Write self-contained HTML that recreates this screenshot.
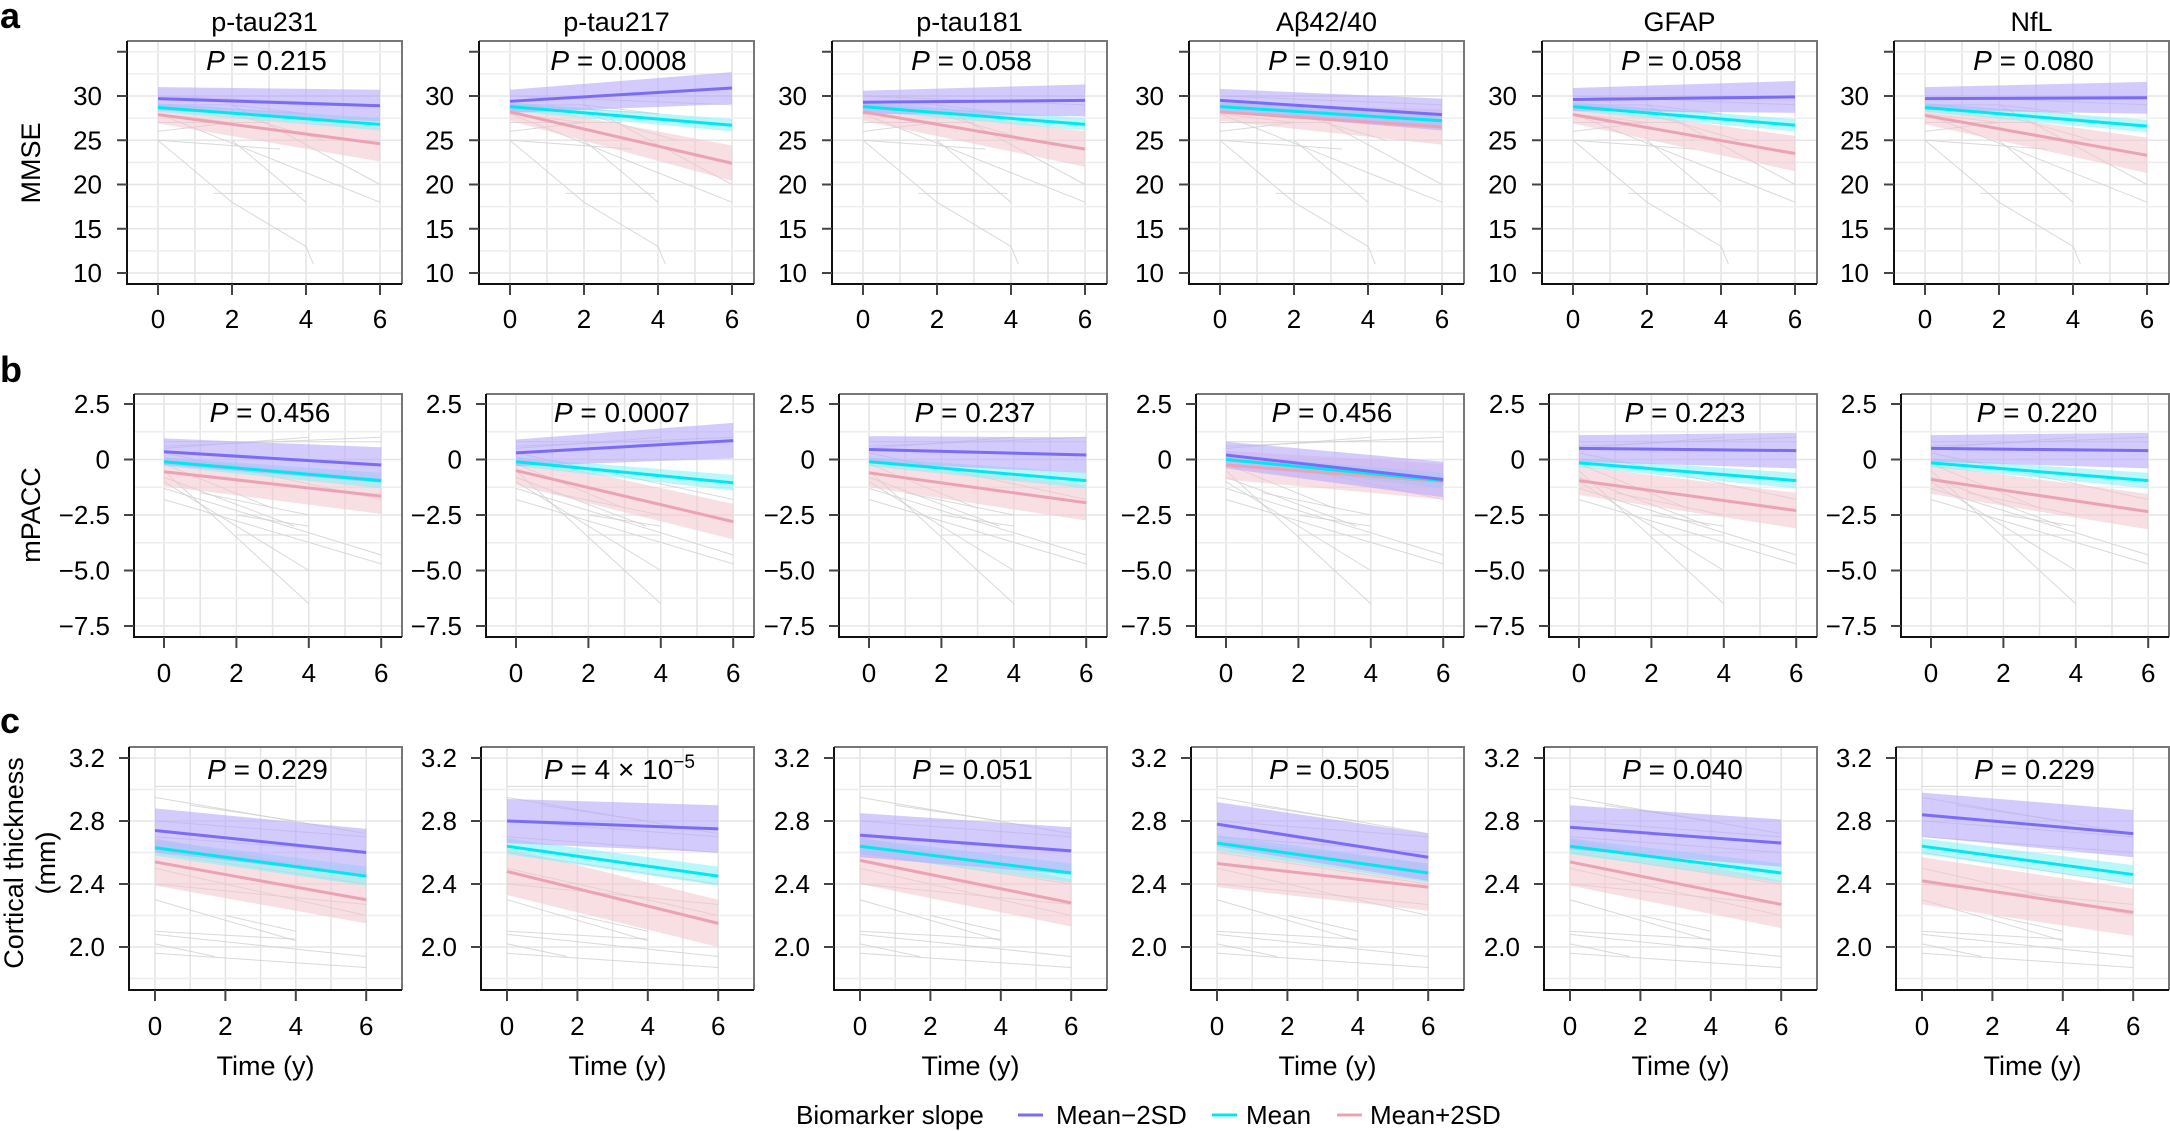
<!DOCTYPE html>
<html><head><meta charset="utf-8"><style>
html,body{margin:0;padding:0;background:#fff;}
svg{display:block;font-family:"Liberation Sans",sans-serif;}
</style></head><body>
<svg id="s" width="2170" height="1131" viewBox="0 0 2170 1131" xmlns="http://www.w3.org/2000/svg">
<text x="0" y="28" font-size="36" font-weight="bold">a</text>
<text x="0" y="382" font-size="36" font-weight="bold">b</text>
<text x="0" y="733" font-size="36" font-weight="bold">c</text>
<text transform="translate(40,163) rotate(-90)" text-anchor="middle" font-size="27">MMSE</text>
<text transform="translate(40,515) rotate(-90)" text-anchor="middle" font-size="27">mPACC</text>
<text transform="translate(23,863) rotate(-90)" text-anchor="middle" font-size="27">Cortical thickness</text>
<text transform="translate(55,863) rotate(-90)" text-anchor="middle" font-size="27">(mm)</text>
<g font-size="26">
<text x="796" y="1124">Biomarker slope</text>
<line x1="1018" y1="1115" x2="1043" y2="1115" stroke="#7b6cf6" stroke-width="3"/>
<text x="1056" y="1124">Mean−2SD</text>
<line x1="1212" y1="1115" x2="1237" y2="1115" stroke="#00e8ee" stroke-width="3"/>
<text x="1246" y="1124">Mean</text>
<line x1="1337" y1="1115" x2="1362" y2="1115" stroke="#eba3b3" stroke-width="3"/>
<text x="1370" y="1124">Mean+2SD</text>
</g>
</svg>
<script>
const S=document.getElementById('s');const NS='http://www.w3.org/2000/svg';
function el(t,a,txt){const e=document.createElementNS(NS,t);for(const k in a)e.setAttribute(k,a[k]);if(txt!==undefined)e.textContent=txt;S.appendChild(e);return e;}
const lefts=[127,479,832,1189,1542,1894];
const titles=['p-tau231','p-tau217','p-tau181','Aβ42/40','GFAP','NfL'];
const rows=[
{top:41,bot:284,lo:0,w:275,x0:31,u:37,y:v=>96+(30-v)*8.85,ticks:[[30,'30'],[25,'25'],[20,'20'],[15,'15'],[10,'10']],minor:[35,32.5,27.5,22.5,17.5,12.5],extraTick:[35],labEnd:-25,xlab:328,pY:70,
 P:['0.215','0.0008','0.058','0.910','0.058','0.080'],
 d:[[29.7,28.9,28.7,26.8,27.9,24.6],[29.4,30.9,28.8,26.7,28.2,22.4],[29.3,29.5,28.8,26.8,28.2,24.0],[29.5,27.9,28.8,27.2,28.2,26.5],[29.6,29.9,28.8,26.7,27.9,23.5],[29.7,29.8,28.7,26.6,27.8,23.3]],
 bw:[[1.3,1.8],[0.5,0.7],[1.0,2.0]],
 gray:[[0,30,6,30],[0,29,2,29],[2,29,4,28],[0,28,2,27],[0,27,3,27],[0,26,2,27],[0,25,2,18],[2,18,4,13],[4,13,4.2,11],[0,25,3.3,24],[2,25,4,18],[0,28,6,18],[2,29,6,20],[1.5,19,3.9,19],[0,29,4,28],[2,28,4.5,25],[0,30,6,29]]},
{top:394,bot:637,lo:7,w:268,x0:37,u:36.2,y:v=>404+(2.5-v)*22.2,ticks:[[2.5,'2.5'],[0,'0'],[-2.5,'−2.5'],[-5,'−5.0'],[-7.5,'−7.5']],minor:[1.25,-1.25,-3.75,-6.25],extraTick:[],labEnd:-24,xlab:682,pY:422,
 P:['0.456','0.0007','0.237','0.456','0.223','0.220'],
 d:[[0.35,-0.25,-0.1,-0.95,-0.55,-1.65],[0.3,0.85,-0.1,-1.05,-0.5,-2.8],[0.45,0.2,-0.1,-0.95,-0.6,-1.95],[0.2,-0.9,0.0,-0.95,-0.25,-1.0],[0.5,0.4,-0.15,-0.95,-0.95,-2.3],[0.5,0.4,-0.15,-0.95,-0.9,-2.35]],
 bw:[[0.6,0.8],[0.2,0.35],[0.65,0.8]],
 gray:[[0,0.8,6,0.8],[0,0.5,4,1.0],[0,-0.5,4,-6.5],[0,-1,4,-5],[1,-1.5,4,-2.5],[0,-1.3,6,-4.3],[2,-3.4,4,-3.4],[0,-1.8,6,-4.7],[0,0.3,6,-1.8],[0,-0.2,3,-2.2],[0,0.6,6,1.0],[2,-2.5,4,-3],[0,-0.8,3.6,-3.0]]},
{top:747,bot:990,lo:2,w:273,x0:28,u:35.2,y:v=>758+(3.2-v)*157.5,ticks:[[3.2,'3.2'],[2.8,'2.8'],[2.4,'2.4'],[2.0,'2.0']],minor:[3.0,2.6,2.2,1.8],extraTick:[],labEnd:-24,xlab:1035,pY:779,
 P:['0.229','4 × 10','0.051','0.505','0.040','0.229'],
 d:[[2.74,2.6,2.63,2.45,2.54,2.30],[2.8,2.75,2.64,2.45,2.48,2.15],[2.71,2.61,2.64,2.47,2.55,2.28],[2.78,2.57,2.66,2.47,2.53,2.38],[2.76,2.66,2.64,2.47,2.54,2.27],[2.84,2.72,2.64,2.46,2.42,2.22]],
 bw:[[0.14,0.15],[0.05,0.06],[0.15,0.15]],
 gray:[[0,3.02,4,3.02],[0,2.95,6,2.72],[0,2.1,4,2.05],[0,2.08,6,1.94],[0,2.02,1.7,1.94],[0,2.3,4,2.04],[0,2.6,6,2.4],[0,2.7,6,2.6],[0,2.5,6,2.2],[1,2.9,4,2.8],[2,2.2,4,2.1],[0,2.4,6,2.27],[0,2.8,6,2.7],[0,1.96,6,1.87]]}
];
const cols=['#7b6cf6','#00e8ee','#eba3b3'];const fills=['#b7a8fb','#7ff0f5','#f3c4ce'];const fo=[0.6,0.55,0.55];
rows.forEach((r,ri)=>{
 lefts.forEach((L0,ci)=>{
  const L=L0+r.lo,R=L0+275,T=r.top,B=r.bot;
  const X=t=>L0+r.x0+t*r.u;
  if(ri==0) el('text',{x:(L+R)/2,y:31,'text-anchor':'middle','font-size':27},titles[ci]);
  for(let t=0;t<=6;t++)el('line',{x1:X(t),x2:X(t),y1:T,y2:B,stroke:'#e4e4e4','stroke-width':1.5});
  r.ticks.forEach(([v])=>el('line',{x1:L,x2:R,y1:r.y(v),y2:r.y(v),stroke:'#e6e6e6','stroke-width':1.5}));
  r.minor.forEach(v=>{const yy=r.y(v);if(yy>T&&yy<B)el('line',{x1:L,x2:R,y1:yy,y2:yy,stroke:'#eeeeee','stroke-width':1.5});});
  r.gray.forEach(g=>el('line',{x1:X(g[0]),y1:r.y(g[1]),x2:X(g[2]),y2:r.y(g[3]),stroke:'#d0d0d0','stroke-width':1,opacity:0.8}));
  const d=r.d[ci];
  [2,1,0].forEach(k=>{
   const a=d[2*k],b=d[2*k+1],w0=r.bw[k][0],w1=r.bw[k][1];
   el('polygon',{points:`${X(0)},${r.y(a+w0)} ${X(6)},${r.y(b+w1)} ${X(6)},${r.y(b-w1)} ${X(0)},${r.y(a-w0)}`,fill:fills[k],'fill-opacity':fo[k]});
  });
  [2,1,0].forEach(k=>{const a=d[2*k],b=d[2*k+1];el('line',{x1:X(0),y1:r.y(a),x2:X(6),y2:r.y(b),stroke:cols[k],'stroke-width':3});});
  el('path',{d:`M${L},${T} H${R} V${B}`,fill:'none',stroke:'#777','stroke-width':2});
  el('path',{d:`M${L},${T} V${B} H${R}`,fill:'none',stroke:'#111','stroke-width':2});
  r.ticks.forEach(([v,lab])=>{el('line',{x1:L-10,x2:L,y1:r.y(v),y2:r.y(v),stroke:'#444','stroke-width':2});el('text',{x:L+r.labEnd,y:r.y(v)+9,'text-anchor':'end','font-size':26},lab);});
  r.extraTick.forEach(v=>el('line',{x1:L-10,x2:L,y1:r.y(v),y2:r.y(v),stroke:'#444','stroke-width':2}));
  [0,2,4,6].forEach(t=>{el('line',{x1:X(t),x2:X(t),y1:B,y2:B+11,stroke:'#444','stroke-width':2});el('text',{x:X(t),y:r.xlab,'text-anchor':'middle','font-size':26},String(t));});
  if(ri==2) el('text',{x:(L+R)/2,y:1075,'text-anchor':'middle','font-size':27},'Time (y)');
  const t=el('text',{x:(L+R)/2+2,y:r.pY,'text-anchor':'middle','font-size':28});
  const ti=document.createElementNS(NS,'tspan');ti.setAttribute('font-style','italic');ti.textContent='P';t.appendChild(ti);
  const tv=document.createElementNS(NS,'tspan');tv.textContent=' = '+r.P[ci];t.appendChild(tv);
  if(ri==2&&ci==1){const sup=document.createElementNS(NS,'tspan');sup.setAttribute('dy','-11');sup.setAttribute('font-size','19');sup.textContent='−5';t.appendChild(sup);}
 });
});
</script>
</body></html>
